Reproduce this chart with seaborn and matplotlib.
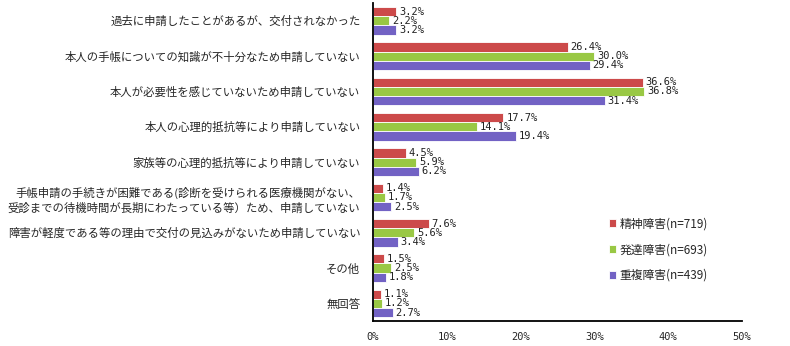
import numpy as np
import pandas as pd
import matplotlib
matplotlib.use("Agg")
import matplotlib.pyplot as plt
import seaborn as sns

sns.set_style("white")
plt.rcParams['font.family'] = ['Noto Sans CJK JP', 'DejaVu Sans']

# categories (top to bottom)
categories = [
    "過去に申請したことがあるが、交付されなかった",
    "本人の手帳についての知識が不十分なため申請していない",
    "本人が必要性を感じていないため申請していない",
    "本人の心理的抵抗等により申請していない",
    "家族等の心理的抵抗等により申請していない",
    "手帳申請の手続きが困難である(診断を受けられる医療機関がない、\n受診までの待機時間が長期にわたっている等）ため、申請していない",
    "障害が軽度である等の理由で交付の見込みがないため申請していない",
    "その他",
    "無回答",
]
series_names = ["精神障害(n=719)", "発達障害(n=693)", "重複障害(n=439)"]
seishin = [3.2, 26.4, 36.6, 17.7, 4.5, 1.4, 7.6, 1.5, 1.1]
hattatsu = [2.2, 30.0, 36.8, 14.1, 5.9, 1.7, 5.6, 2.5, 1.2]
choufuku = [3.2, 29.4, 31.4, 19.4, 6.2, 2.5, 3.4, 1.8, 2.7]
xticks = [0, 10, 20, 30, 40, 50]

colors = ["#cc4a4a", "#99c844", "#7262c4"]

rows = []
for name, vals in zip(series_names, [seishin, hattatsu, choufuku]):
    for c, v in zip(categories, vals):
        rows.append({"cat": c, "group": name, "val": v})
df = pd.DataFrame(rows)

fig = plt.figure(figsize=(7.9, 3.46), dpi=100)
ax = fig.add_axes([0.472, 0.072, 0.467, 0.919])

sns.barplot(data=df, y="cat", x="val", hue="group", order=categories,
            hue_order=series_names, palette=colors, orient="h",
            width=0.78, ax=ax, saturation=1, edgecolor="white", linewidth=0.6)

for cont in ax.containers:
    ax.bar_label(cont, fmt="%.1f%%", padding=2, fontsize=7.5,
                 family="DejaVu Sans Mono", color="#222222")

ax.set_xlim(0, 50)
ax.set_ylim(len(categories) - 0.5, -0.5)
ax.set_xticks(xticks)
ax.set_xticklabels([f"{t}%" for t in xticks], family="DejaVu Sans Mono", fontsize=7.5)
ax.set_xlabel("")
ax.set_ylabel("")
ax.tick_params(axis="y", labelsize=8.2, length=3, width=1.2, direction="out", pad=6, color="black")
ax.tick_params(axis="x", length=7, width=1.2, direction="inout", pad=4, color="black")
for lbl in ax.get_yticklabels():
    lbl.set_horizontalalignment("right")
    lbl.set_linespacing(1.4)

for side in ["top", "right"]:
    ax.spines[side].set_visible(False)
for side in ["left", "bottom"]:
    ax.spines[side].set_color("black")
    ax.spines[side].set_linewidth(1.3)

leg = ax.legend(loc="center left", bbox_to_anchor=(0.61, 0.225), frameon=False,
                fontsize=8.5, handlelength=0.6, handleheight=0.6, labelspacing=1.1,
                handletextpad=0.3)

fig.savefig("out.png", dpi=100)
